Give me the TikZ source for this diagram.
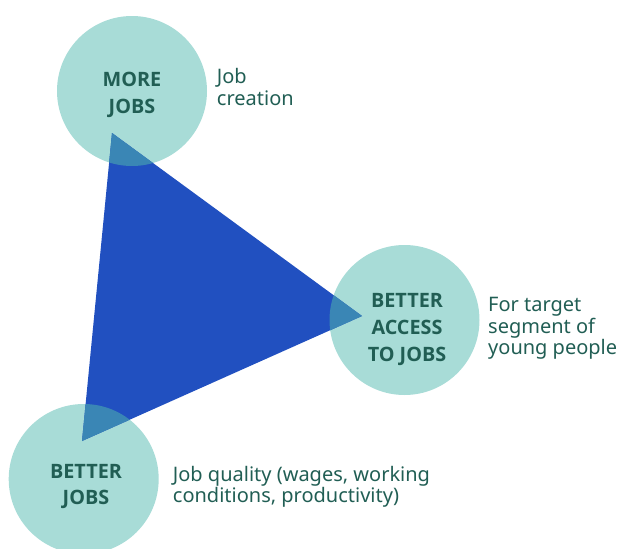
\documentclass[tikz,border=0pt]{standalone}
\usepackage{fontspec}
\setmainfont{Noto Sans}
\newfontfamily\titlefont{Open Sans}
\definecolor{circ}{HTML}{A8DCD7}
\definecolor{tri}{HTML}{2150C0}
\definecolor{over}{HTML}{3A86B5}
\definecolor{ink}{HTML}{215E54}
\begin{document}
\begin{tikzpicture}[x=1pt,y=-1pt,
  hub/.style={circle,fill=circ,minimum size=150pt,inner sep=0pt},
  title/.style={align=center,text=ink,font=\titlefont\fontsize{19.8}{26.7}\bfseries\selectfont,inner sep=0pt},
  note/.style={align=left,text=ink,font=\fontsize{20}{21.5}\selectfont,inner sep=0pt,anchor=west}]
\useasboundingbox (0,0) rectangle (619,549);
\node[hub] (more) at (132,91) {};
\node[hub] (access) at (404.5,320) {};
\node[hub] (better) at (83.7,479) {};
\coordinate (ta) at (112,133);
\coordinate (tb) at (362,316);
\coordinate (tc) at (82,441);
\fill[tri] (ta) -- (tb) -- (tc) -- cycle;
\foreach \c in {more,access,better}{
  \begin{scope}
    \clip (\c.center) circle (75);
    \fill[over] (ta) -- (tb) -- (tc) -- cycle;
  \end{scope}
}
\node[title] (moret) at (132,95) {MORE\\JOBS};
\node[title] (accesst) at (407,329.5) {BETTER\\ACCESS\\TO JOBS};
\node[title] (bettert) at (86,486.5) {BETTER\\JOBS};
\node[note] (moren) at (216.7,87) {Job\\creation};
\node[note] (accessn) at (488,328.5) {For target\\segment of\\young people};
\node[note] (bettern) at (172.7,487) {Job quality (wages, working\\conditions, productivity)};
\end{tikzpicture}
\end{document}
